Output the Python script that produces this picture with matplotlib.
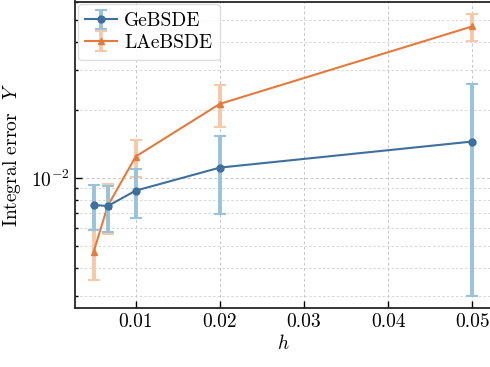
import matplotlib
matplotlib.use("Agg")
import matplotlib.pyplot as plt
from matplotlib.ticker import LogLocator, NullFormatter, LogFormatterSciNotation

plt.rcParams.update({
    "font.family": "serif",
    "font.serif": ["cmr10", "DejaVu Serif"],
    "mathtext.fontset": "cm",
    "axes.formatter.use_mathtext": True,
    "font.size": 14,
})

# step sizes
h = [0.005, 1 / 150, 0.01, 0.02, 0.05]

# mean integral error and standard deviation per method
ge_mean = [7.59e-3, 7.50e-3, 8.78e-3, 1.111e-2, 1.45e-2]
ge_std = [1.70e-3, 1.75e-3, 2.15e-3, 4.20e-3, 1.15e-2]
la_mean = [4.70e-3, 7.50e-3, 1.244e-2, 2.13e-2, 4.70e-2]
la_std = [1.18e-3, 1.85e-3, 2.30e-3, 4.50e-3, 6.40e-3]

blue = "#3f6f9f"
blue_err = "#98c3da"
orange = "#e47a3c"
orange_err = "#f5c9a8"

fig = plt.figure(figsize=(4.9, 3.67), dpi=100)
ax = fig.add_axes([74.7 / 490, 1 - 308.3 / 367, (491.2 - 74.7) / 490, (308.3 - 1.5) / 367])

ax.errorbar(h, ge_mean, yerr=ge_std, color=blue, ecolor=blue_err, marker="o",
            ms=5, lw=1.5, elinewidth=2.8, capsize=4, capthick=1.5,
            label="GeBSDE", zorder=3)
ax.errorbar(h, la_mean, yerr=la_std, color=orange, ecolor=orange_err, marker="^",
            ms=4, lw=1.5, elinewidth=2.8, capsize=4, capthick=1.5,
            label="LAeBSDE", zorder=2.5)

ax.set_yscale("log")
ax.set_ylim(2.64e-3, 6.06e-2)
ax.set_xticks([0.01, 0.02, 0.03, 0.04, 0.05])
ax.set_xticklabels(["0.01", "0.02", "0.03", "0.04", "0.05"])
ax.yaxis.set_major_locator(LogLocator(base=10))
ax.yaxis.set_major_formatter(LogFormatterSciNotation())
ax.yaxis.set_minor_locator(LogLocator(base=10, subs=range(2, 10)))
ax.yaxis.set_minor_formatter(NullFormatter())

ax.tick_params(which="both", direction="in", width=1)
ax.tick_params(which="major", length=5)
ax.tick_params(which="minor", length=2.5)

ax.grid(True, which="major", ls=(0, (3, 2.5)), lw=0.7, color="0.78")
ax.grid(True, which="minor", axis="y", ls=(0, (3, 2.5)), lw=0.6, color="0.82")

for s in ax.spines.values():
    s.set_linewidth(1.3)
    s.set_color("0.15")

ax.set_xlabel("$h$", labelpad=2)
ax.set_ylabel("Integral error  $Y$", labelpad=6)

ax.legend(loc="upper left", borderaxespad=0.15, handlelength=1.6,
          handletextpad=0.4, labelspacing=0.2, framealpha=0.85,
          edgecolor="0.85", fontsize=14)

fig.savefig("out.png", dpi=100)
